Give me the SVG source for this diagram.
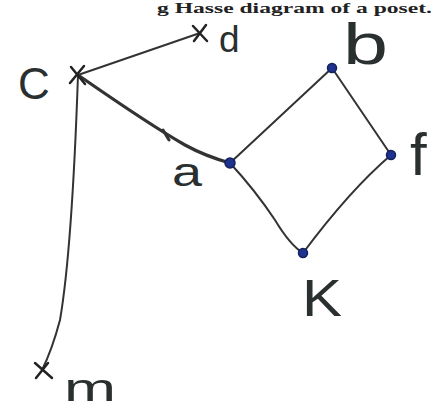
<svg xmlns="http://www.w3.org/2000/svg" width="441" height="412" viewBox="0 0 441 412">
<style>
.e{fill:none;stroke:#333;stroke-width:2;stroke-linecap:round}
.dot{fill:#1f3290;stroke:#13205e;stroke-width:1.5}
.x{stroke:#222;stroke-width:2.5;stroke-linecap:round;fill:none}
.lbl{font-family:"Liberation Sans",sans-serif;fill:#2a2f2f}
.cap{font-family:"Liberation Serif",serif;font-weight:bold;font-size:15px;fill:#222}
</style>
<rect width="441" height="412" fill="#fff"/>
<text class="cap" x="157" y="13" textLength="275" lengthAdjust="spacingAndGlyphs">g Hasse diagram of a poset.</text>
<g id="connectors">
<path class="e" d="M78,75 L200,33"/>
<path class="e" style="stroke-width:3.2" d="M78,75 Q150,125 185,145 Q205,156 230,163"/>
<path class="e" style="stroke-width:3" d="M163,130 L169,140"/>
<path class="e" d="M78,75 Q72,250 60,320 Q52,350 42,370"/>
<path class="e" d="M230,163 L332,68"/>
<path class="e" d="M332,68 L391,155"/>
<path class="e" d="M230,163 Q255,190 275,220 Q290,245 303,253"/>
<path class="e" d="M303,253 Q350,190 391,155"/>
</g>
<g id="c">
<path class="x" d="M71,67 L85,84 M84,66 L70,83"/>
<text class="lbl" x="18" y="99" font-size="44">C</text>
</g>
<g id="d">
<path class="x" d="M193,26 L207,41 M206,25 L194,41"/>
<text class="lbl" x="219" y="52" font-size="37">d</text>
</g>
<g id="m">
<path class="x" d="M35,363 L52,378 M48,363 L36,378"/>
<text class="lbl" x="64" y="401" font-size="38" textLength="52" lengthAdjust="spacingAndGlyphs">m</text>
</g>
<g id="a">
<circle class="dot" cx="230" cy="163" r="5"/>
<text class="lbl" x="172" y="186" font-size="40" textLength="30" lengthAdjust="spacingAndGlyphs">a</text>
</g>
<g id="b">
<circle class="dot" cx="332" cy="68" r="4.5"/>
<text class="lbl" x="343" y="64" font-size="58" textLength="45" lengthAdjust="spacingAndGlyphs">b</text>
</g>
<g id="f">
<circle class="dot" cx="391" cy="155" r="4.5"/>
<text class="lbl" x="410" y="175" font-size="60">f</text>
</g>
<g id="k">
<circle class="dot" cx="303" cy="253" r="4.5"/>
<text class="lbl" x="302" y="316" font-size="52" textLength="40" lengthAdjust="spacingAndGlyphs">K</text>
</g>
</svg>
